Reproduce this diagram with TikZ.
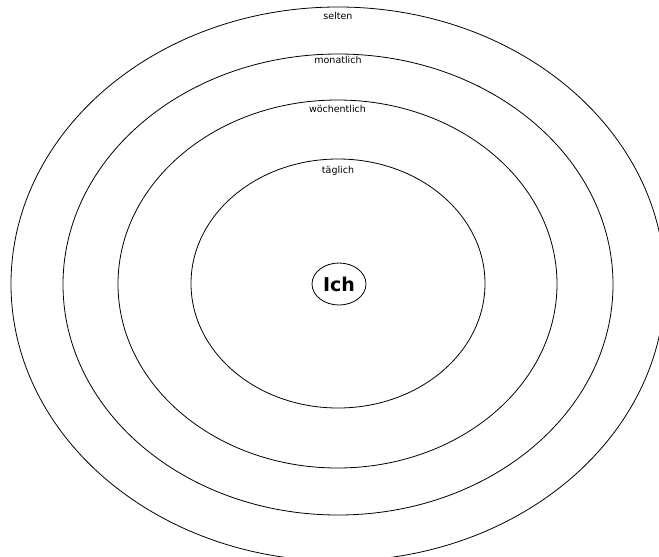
\documentclass[tikz,border=0pt]{standalone}
\usepackage{fontspec}
\setmainfont{DejaVu Sans}
\usetikzlibrary{positioning,shapes.geometric}

\begin{document}
\begin{tikzpicture}[x=1pt, y=1pt,
  ring/.style n args={2}{draw, ellipse, line width=0.8pt, inner sep=0pt, minimum width=#1pt, minimum height=#2pt},
  lbl/.style={inner sep=0pt, anchor=base, font=\fontsize{9.5}{11}\selectfont}]
  \useasboundingbox (0,0) rectangle (659,-557);
  \clip (0,0) rectangle (659,-557);
  \node[ring={654}{554}] (selten) at (338,-284) {};
  \node[ring={550}{461}] (monatlich) at (338,-284.5) {};
  \node[ring={439}{368}] (woechentlich) at (337.5,-284) {};
  \node[ring={294}{249}] (taeglich) at (338,-283.5) {};
  \node[ring={54}{42}, font=\fontsize{19}{21}\selectfont\bfseries] (ich) at (339,-284) {Ich};
  % labels
  \node[lbl] (lselten) at (338,-19) {selten};
  \node[lbl] (lmonatlich) at (338,-63) {monatlich};
  \node[lbl] (lwoechentlich) at (337.5,-112) {wöchentlich};
  \node[lbl] (ltaeglich) at (338,-173) {täglich};
\end{tikzpicture}
\end{document}
